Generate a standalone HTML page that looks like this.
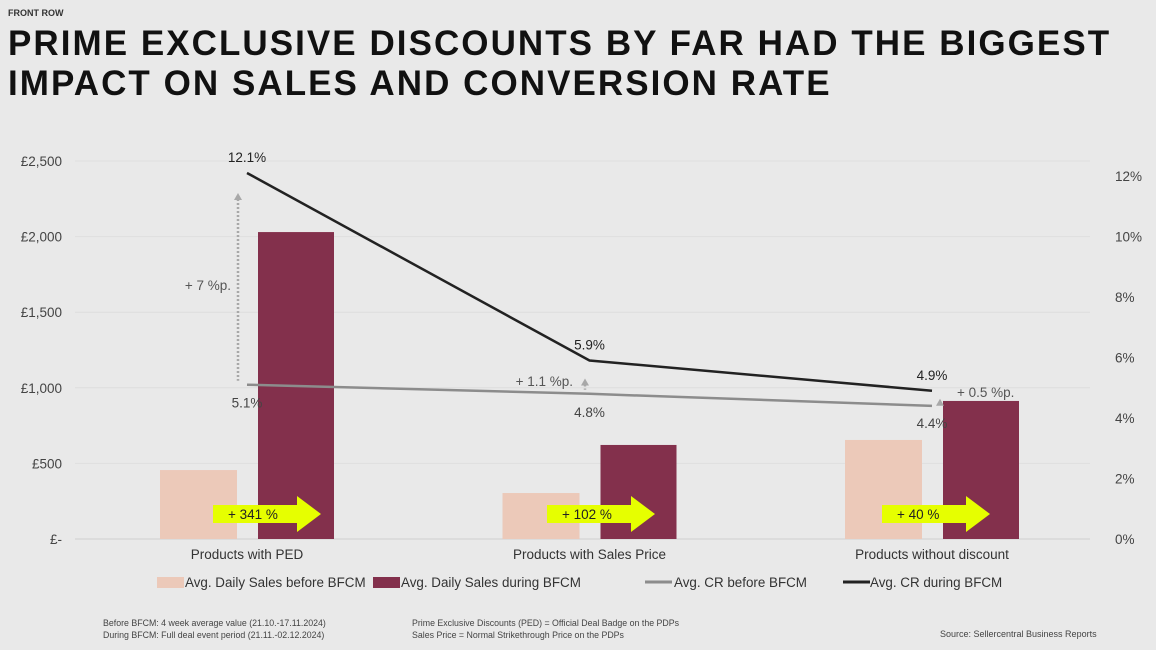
<!DOCTYPE html>
<html><head><meta charset="utf-8"><style>
body{margin:0;background:#e9e9e9;font-family:"Liberation Sans",Arial,sans-serif;}
#wrap{position:relative;width:1156px;height:650px;overflow:hidden;background:#e9e9e9}
.t{position:absolute;}
</style></head><body>
<div id="wrap">
<div class="t" style="left:8px;top:8px;font-size:9px;font-weight:bold;color:#333">FRONT ROW</div>
<div class="t" style="left:8px;top:24px;font-size:35px;font-weight:bold;line-height:40px;letter-spacing:2.05px;color:#111">PRIME EXCLUSIVE DISCOUNTS BY FAR HAD THE BIGGEST<br>IMPACT ON SALES AND CONVERSION RATE</div>
<svg id="chart" width="1156" height="650" style="position:absolute;left:0;top:0"></svg>
<div class="t" style="left:103px;top:617px;font-size:8.8px;color:#444;line-height:12px">Before BFCM: 4 week average value (21.10.-17.11.2024)<br>During BFCM: Full deal event period (21.11.-02.12.2024)</div>
<div class="t" style="left:412px;top:617px;font-size:8.8px;color:#444;line-height:12px">Prime Exclusive Discounts (PED) = Official Deal Badge on the PDPs<br>Sales Price = Normal Strikethrough Price on the PDPs</div>
<div class="t" style="left:940px;top:629px;font-size:9px;color:#444">Source: Sellercentral Business Reports</div>
</div>
<script>
const categories=["Products with PED","Products with Sales Price","Products without discount"];
const salesBefore=[456,304,655];
const salesDuring=[2030,622,913];
const crBefore=[5.1,4.8,4.4];
const crDuring=[12.1,5.9,4.9];
const upliftLabels=["+ 341 %","+ 102 %","+ 40 %"];
const crDiffLabels=["+ 7 %p.","+ 1.1 %p.","+ 0.5 %p."];
const leftTicks=[0,500,1000,1500,2000,2500];
const leftTickLabels=["£-","£500","£1,000","£1,500","£2,000","£2,500"];
const rightTicks=[0,2,4,6,8,10,12];

const svg=document.getElementById('chart');const NS="http://www.w3.org/2000/svg";
function el(t,a,txt){const e=document.createElementNS(NS,t);for(const k in a)e.setAttribute(k,a[k]);if(txt!==undefined)e.textContent=txt;svg.appendChild(e);return e;}
const y0=539;
const yL=v=>y0-v*(378/2500);
const yR=v=>y0-v*30.25;
const xC=i=>247+i*342.5;
const arrowStart=[213,547,882];
leftTicks.forEach((v,i)=>{
 const g=el('line',{x1:75,x2:1090,y1:yL(v),y2:yL(v),stroke:i==0?'#cfcfcf':'#dedede','stroke-width':1});
 
 const t=el('text',{x:62,y:yL(v)+5,'text-anchor':'end','font-size':13.5,fill:'#444'},leftTickLabels[i]);
 
});
rightTicks.forEach(v=>{
 const t=el('text',{x:1115,y:yR(v)+5,'font-size':13.5,fill:'#444'},v+'%');
 
});
categories.forEach((c,i)=>{
 const x=xC(i);
 const b1=el('rect',{x:x-87,y:yL(salesBefore[i]),width:77,height:y0-yL(salesBefore[i]),fill:'#ecc9b9'});
 
 const b2=el('rect',{x:x+11,y:yL(salesDuring[i]),width:76,height:y0-yL(salesDuring[i]),fill:'#83304c'});
 
 const lab=el('text',{x:x,y:559,'text-anchor':'middle','font-size':13.5,fill:'#333'},c);
 
 const a=arrowStart[i];
 const ar=el('polygon',{points:`${a},505 ${a+84},505 ${a+84},496 ${a+108},514 ${a+84},532 ${a+84},523 ${a},523`,fill:'#e6ff00'});
 
 const at=el('text',{x:a+15,y:519,'font-size':13.5,fill:'#222'},upliftLabels[i]);
 
});
function line(arr,col,name){
 const p=el('polyline',{points:arr.map((v,i)=>xC(i)+','+yR(v)).join(' '),fill:'none',stroke:col,'stroke-width':2.5});
 
}
line(crBefore,'#8c8c8c','line-cr-before');
line(crDuring,'#222','line-cr-during');
const arrowX=[238,585,940];
const diffLX=[231,573,957];
crDuring.forEach((v,i)=>{
 const ax=arrowX[i];
 const top=yR(v)+(i==0?20:i==1?18:8), bot=yR(crBefore[i])-4;
 const d=el('line',{x1:ax,x2:ax,y1:top+6,y2:bot,stroke:'#a8a8a8','stroke-width':2.5,'stroke-dasharray':'2,2'});
 
 const h=el('polygon',{points:`${ax-4},${top+7} ${ax},${top} ${ax+4},${top+7}`,fill:'#a8a8a8'});
 
 const dl=el('text',{x:diffLX[i],y:i==0?290:i==1?386:397,'text-anchor':i==2?'start':'end','font-size':13.5,fill:'#555'},crDiffLabels[i]);
 
 const l1=el('text',{x:xC(i),y:yR(v)-11,'text-anchor':'middle','font-size':13.5,fill:'#222'},v.toFixed(1)+'%');
 
 const l2=el('text',{x:xC(i),y:yR(crBefore[i])+(i==2?22:23),'text-anchor':'middle','font-size':13.5,fill:'#444'},crBefore[i].toFixed(1)+'%');
 
});
const legend=[["rect","#ecc9b9","Avg. Daily Sales before BFCM",157,185],["rect","#83304c","Avg. Daily Sales during BFCM",373,401],["line","#8c8c8c","Avg. CR before BFCM",645,674],["line","#222","Avg. CR during BFCM",843,870]];
legend.forEach(l=>{
 let m;
 if(l[0]=="rect")m=el('rect',{x:l[3],y:577,width:27,height:11,fill:l[1]});
 else m=el('line',{x1:l[3],x2:l[3]+27,y1:582,y2:582,stroke:l[1],'stroke-width':3});
 
 const t=el('text',{x:l[4],y:587,'font-size':13.4,fill:'#333'},l[2]);
 
});
</script>
</body></html>
